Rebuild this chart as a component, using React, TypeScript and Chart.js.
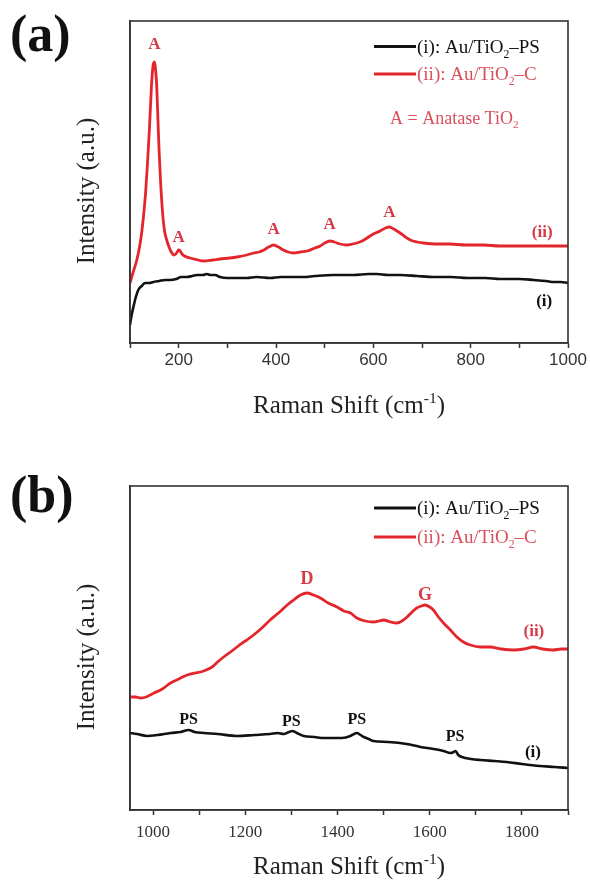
import React, { useEffect, useRef } from 'react';
import { Chart, registerables } from 'chart.js';

Chart.register(...registerables);

// ---------------- Panel (a) data ----------------
const aTicks = [100, 200, 300, 400, 500, 600, 700, 800, 900, 1000];
const aRedShift = [100, 106, 114, 121, 127, 132, 136, 140, 144, 147, 150, 152, 155, 158, 160, 163, 167, 171, 176, 181, 186, 190, 194, 197, 200, 203, 207, 212, 223, 240, 251, 270, 285, 305, 320, 340, 354, 365, 375, 385, 395, 405, 415, 425, 436, 450, 464, 480, 491, 500, 511, 520, 532, 545, 557, 566, 577, 587, 600, 614, 625, 633, 642, 655, 666, 676, 690, 703, 730, 758, 790, 827, 860, 895, 930, 965, 1000];
const aRedIntensity = [60, 70, 83, 100, 123, 150, 180, 215, 256, 276, 281, 276, 256, 215, 190, 160, 130, 112, 102, 95, 90, 88, 89, 91, 93, 92, 89, 87, 85, 83, 82, 83, 84, 85, 86, 88, 90, 91, 93, 96, 98, 96, 93, 91, 90, 91, 92, 95, 97, 100, 102, 101, 99, 98, 99, 100, 102, 105, 109, 112, 115, 116, 114, 110, 106, 103, 101, 100, 99, 99, 98, 98, 97, 97, 97, 97, 97];

const aBlackShift = [100, 103, 107, 112, 117, 124, 131, 140, 148, 160, 172, 182, 195, 205, 216, 228, 238, 250, 258, 265, 275, 285, 300, 320, 340, 360, 388, 410, 430, 456, 480, 518, 560, 590, 607, 630, 655, 690, 724, 760, 793, 830, 861, 900, 930, 955, 971, 985, 1000];
const aBlackIntensity = [18, 27, 36, 46, 53, 57, 60, 60, 61, 62, 63, 63, 64, 66, 66, 67, 68, 68, 69, 68, 68, 66, 65, 65, 65, 66, 65, 66, 66, 66, 67, 68, 68, 69, 69, 68, 68, 67, 66, 66, 65, 65, 64, 64, 63, 62, 61, 61, 60];

const aPeakShift = [150, 200, 395, 510, 633];
const aPeakLabelLevel = [298, 105, 113, 118, 130];

// ---------------- Panel (b) data ----------------
const bTicks = [1000, 1100, 1200, 1300, 1400, 1500, 1600, 1700, 1800, 1900];
const bRedShift = [950, 962, 973, 985, 1002, 1020, 1038, 1056, 1074, 1090, 1103, 1115, 1128, 1140, 1153, 1168, 1182, 1200, 1218, 1236, 1254, 1272, 1291, 1305, 1320, 1334, 1348, 1363, 1380, 1399, 1414, 1428, 1442, 1460, 1478, 1490, 1500, 1515, 1529, 1540, 1551, 1562, 1572, 1582, 1590, 1600, 1608, 1619, 1630, 1645, 1659, 1673, 1688, 1710, 1731, 1755, 1782, 1805, 1825, 1845, 1868, 1885, 1900];
const bRedIntensity = [113, 113, 112, 113, 117, 121, 127, 131, 135, 137, 138, 140, 143, 148, 153, 158, 163, 169, 175, 182, 190, 197, 205, 210, 215, 217, 215, 212, 207, 203, 199, 197, 192, 189, 188, 189, 190, 188, 187, 189, 193, 198, 202, 204, 205, 203, 200, 193, 187, 180, 173, 168, 165, 163, 163, 161, 160, 161, 163, 161, 160, 161, 161];

const bBlackShift = [950, 965, 987, 1010, 1038, 1060, 1077, 1090, 1110, 1140, 1182, 1220, 1254, 1270, 1283, 1295, 1302, 1312, 1327, 1350, 1370, 1392, 1410, 1428, 1436, 1442, 1450, 1457, 1468, 1478, 1510, 1550, 1580, 1608, 1630, 1645, 1652, 1656, 1662, 1670, 1690, 1710, 1740, 1767, 1800, 1839, 1870, 1900];
const bBlackIntensity = [77, 76, 74, 75, 77, 78, 80, 78, 77, 76, 74, 75, 76, 77, 76, 78, 79, 77, 74, 73, 72, 72, 72, 74, 76, 77, 75, 73, 71, 69, 68, 66, 63, 61, 59, 57, 58, 59, 55, 53, 51, 50, 49, 48, 46, 44, 43, 42];

const bPeakShift = [1334, 1590];
const bPeakNames = ['D', 'G'];
const bPeakLabelLevel = [231, 215];
const bPSShift = [1077, 1300, 1442, 1655];
const bPSLabelLevel = [90, 88, 90, 73];

// ---------------- styling ----------------
const RED = '#e3262c';
const RED_TEXT = '#d63a44';
const RED_SOFT = '#d8505c';
const SERIF = "'Liberation Serif', 'Times New Roman', serif";
const SANS = "'Liberation Sans', Arial, sans-serif";
const AXIS = '#333333';

type Part = { t: string; sub?: boolean; sup?: boolean };

function drawRich(ctx: CanvasRenderingContext2D, parts: Part[], x: number, y: number, size: number, weight: string, color: string, align: 'left' | 'center') {
  const measure = (p: Part) => {
    const s = p.sub || p.sup ? size * 0.62 : size;
    ctx.font = `${weight} ${s}px ${SERIF}`;
    return ctx.measureText(p.t).width;
  };
  const total = parts.reduce((a, p) => a + measure(p), 0);
  let cx = align === 'center' ? x - total / 2 : x;
  ctx.fillStyle = color;
  ctx.textBaseline = 'alphabetic';
  ctx.textAlign = 'left';
  const base = y + size * 0.33;
  for (const p of parts) {
    const s = p.sub || p.sup ? size * 0.62 : size;
    ctx.font = `${weight} ${s}px ${SERIF}`;
    let yy = base;
    if (p.sub) yy = base + size * 0.25;
    if (p.sup) yy = base - size * 0.42;
    ctx.fillText(p.t, cx, yy);
    cx += ctx.measureText(p.t).width;
  }
}

type PanelCfg = {
  panel: string;
  panelY: number;
  yTitleY: number;
  xTitleY: number;
  legendY1: number;
  legendY2: number;
  extra?: boolean;
  labels: { x: number; y: number; text: string; color: string; size: number }[];
};

function decorPlugin(cfg: PanelCfg) {
  return {
    id: 'decor' + cfg.panel,
    afterDraw(chart: any) {
      const ctx: CanvasRenderingContext2D = chart.ctx;
      const { left, right, top, bottom } = chart.chartArea;
      const sx = chart.scales.x;
      const sy = chart.scales.y;
      ctx.save();
      ctx.strokeStyle = AXIS;
      ctx.lineWidth = 1.6;
      ctx.strokeRect(left, top, right - left, bottom - top);

      // panel label
      ctx.fillStyle = '#111';
      ctx.font = `bold 52px ${SERIF}`;
      ctx.textAlign = 'left';
      ctx.textBaseline = 'middle';
      ctx.fillText(`(${cfg.panel})`, 10, cfg.panelY);

      // y title
      ctx.save();
      ctx.translate(87, cfg.yTitleY);
      ctx.rotate(-Math.PI / 2);
      ctx.font = `25px ${SERIF}`;
      ctx.fillStyle = '#222';
      ctx.textAlign = 'center';
      ctx.textBaseline = 'middle';
      ctx.fillText('Intensity (a.u.)', 0, 0);
      ctx.restore();

      // x title
      drawRich(ctx, [{ t: 'Raman Shift (cm' }, { t: '-1', sup: true }, { t: ')' }], (left + right) / 2, cfg.xTitleY, 25, 'normal', '#222', 'center');

      // legend
      const lx0 = 374, lx1 = 416;
      ctx.lineWidth = 3;
      ctx.strokeStyle = '#111';
      ctx.beginPath(); ctx.moveTo(lx0, cfg.legendY1); ctx.lineTo(lx1, cfg.legendY1); ctx.stroke();
      ctx.strokeStyle = RED;
      ctx.beginPath(); ctx.moveTo(lx0, cfg.legendY2); ctx.lineTo(lx1, cfg.legendY2); ctx.stroke();
      drawRich(ctx, [{ t: '(i): Au/TiO' }, { t: '2', sub: true }, { t: '\u2013PS' }], lx1 + 1, cfg.legendY1, 19, 'normal', '#111', 'left');
      drawRich(ctx, [{ t: '(ii): Au/TiO' }, { t: '2', sub: true }, { t: '\u2013C' }], lx1 + 1, cfg.legendY2, 19, 'normal', RED_SOFT, 'left');
      if (cfg.extra) {
        drawRich(ctx, [{ t: 'A = Anatase TiO' }, { t: '2', sub: true }], 390, 118, 18, 'normal', RED_SOFT, 'left');
      }

      // peak labels
      for (const l of cfg.labels) {
        ctx.font = `bold ${l.size}px ${SERIF}`;
        ctx.fillStyle = l.color;
        ctx.textAlign = 'center';
        ctx.textBaseline = 'middle';
        ctx.fillText(l.text, sx.getPixelForValue(l.x), sy.getPixelForValue(l.y));
      }
      ctx.restore();
    },
  };
}

function makeChart(
  canvas: HTMLCanvasElement,
  opts: {
    xMin: number; xMax: number; yMax: number; padTop: number; xAxisH: number;
    ticks: number[];
    tickFont: string; tickSize: number; tickPad: number;
    red: { x: number; y: number }[]; black: { x: number; y: number }[];
    cfg: PanelCfg;
  }
) {
  return new Chart(canvas, {
    type: 'line',
    data: {
      datasets: [
        { label: '(i): Au/TiO2-PS', data: opts.black, borderColor: '#111', borderWidth: 2.6, pointRadius: 0, cubicInterpolationMode: 'monotone' },
        { label: '(ii): Au/TiO2-C', data: opts.red, borderColor: RED, borderWidth: 2.8, pointRadius: 0, cubicInterpolationMode: 'monotone' },
      ],
    },
    options: {
      responsive: false,
      animation: false,
      layout: { padding: { left: 0, right: 22, top: opts.padTop, bottom: 0 } },
      plugins: { legend: { display: false }, tooltip: { enabled: false } },
      scales: {
        x: {
          type: 'linear',
          min: opts.xMin,
          max: opts.xMax,
          afterBuildTicks: (s: any) => { s.ticks = opts.ticks.map((v) => ({ value: v })); },
          afterFit: (s: any) => { s.height = opts.xAxisH; },
          ticks: {
            autoSkip: false,
            maxRotation: 0,
            padding: opts.tickPad,
            color: '#333',
            font: { family: opts.tickFont, size: opts.tickSize },
            callback: (v: any) => (Number(v) % 200 === 0 ? String(v) : ''),
          },
          grid: { display: true, drawOnChartArea: false, drawTicks: true, tickLength: 5, tickWidth: 1.5, tickColor: AXIS },
          border: { display: true, color: AXIS, width: 1.6 },
        },
        y: {
          type: 'linear',
          min: 0,
          max: opts.yMax,
          afterFit: (s: any) => { s.width = 130; },
          ticks: { display: false },
          grid: { display: false },
          border: { display: true, color: AXIS, width: 1.6 },
        },
      },
    },
    plugins: [decorPlugin(opts.cfg) as any],
  });
}

const toPts = (xs: number[], ys: number[]) => xs.map((x, i) => ({ x, y: ys[i] }));

export default function App() {
  const refA = useRef<HTMLCanvasElement>(null);
  const refB = useRef<HTMLCanvasElement>(null);

  useEffect(() => {
    const labelsA = aPeakShift.map((s, i) => ({ x: s, y: aPeakLabelLevel[i], text: 'A', color: RED_TEXT, size: 17 }));
    labelsA.push({ x: 947, y: 110, text: '(ii)', color: RED_TEXT, size: 17 });
    labelsA.push({ x: 951, y: 41, text: '(i)', color: '#111', size: 17 });
    const chartA = makeChart(refA.current!, {
      xMin: 100, xMax: 1000, yMax: 322, padTop: 21, xAxisH: 440 - 343,
      ticks: aTicks,
      tickFont: SANS, tickSize: 17, tickPad: 2,
      red: toPts(aRedShift, aRedIntensity), black: toPts(aBlackShift, aBlackIntensity),
      cfg: { panel: 'a', panelY: 38, yTitleY: 191, xTitleY: 405, legendY1: 46.5, legendY2: 74, extra: true, labels: labelsA },
    });

    const labelsB = bPeakShift.map((s, i) => ({ x: s, y: bPeakLabelLevel[i], text: bPeakNames[i], color: RED_TEXT, size: 18 }));
    bPSShift.forEach((s, i) => labelsB.push({ x: s, y: bPSLabelLevel[i], text: 'PS', color: '#111', size: 16 }));
    labelsB.push({ x: 1826, y: 178, text: '(ii)', color: RED_TEXT, size: 17 });
    labelsB.push({ x: 1824, y: 57, text: '(i)', color: '#111', size: 17 });
    const chartB = makeChart(refB.current!, {
      xMin: 950, xMax: 1900, yMax: 324, padTop: 46, xAxisH: 441 - 370,
      ticks: bTicks,
      tickFont: SERIF, tickSize: 17, tickPad: 7,
      red: toPts(bRedShift, bRedIntensity), black: toPts(bBlackShift, bBlackIntensity),
      cfg: { panel: 'b', panelY: 59, yTitleY: 217, xTitleY: 426, legendY1: 68, legendY2: 97, extra: false, labels: labelsB },
    });
    return () => { chartA.destroy(); chartB.destroy(); };
  }, []);

  return (
    <div style={{ position: 'absolute', left: 0, top: 0, width: 590, height: 881, background: '#fff' }}>
      <canvas ref={refA} width={590} height={440} style={{ display: 'block' }} />
      <canvas ref={refB} width={590} height={441} style={{ display: 'block' }} />
    </div>
  );
}
